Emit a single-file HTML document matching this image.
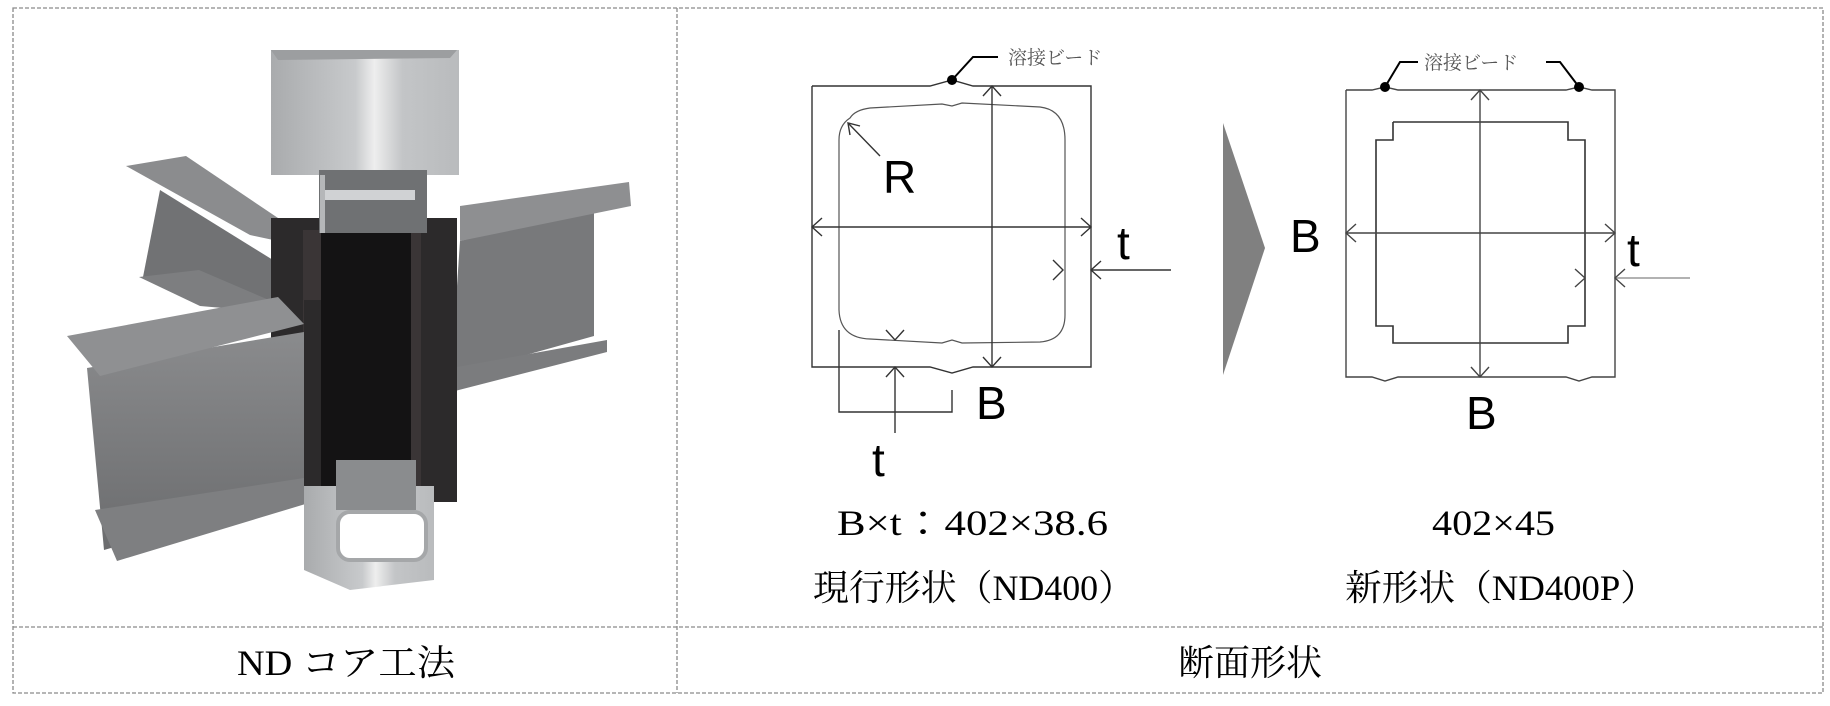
<!DOCTYPE html>
<html><head><meta charset="utf-8"><style>
html,body{margin:0;padding:0;background:#fff;}
svg{display:block;}
</style></head><body>
<svg width="1830" height="706" viewBox="0 0 1830 706" xmlns="http://www.w3.org/2000/svg">
<defs>
<linearGradient id="col" x1="0" x2="1" y1="0" y2="0">
<stop offset="0" stop-color="#a9abad"/><stop offset="0.45" stop-color="#c8cacc"/><stop offset="0.55" stop-color="#eeeeee"/><stop offset="0.7" stop-color="#c3c5c7"/><stop offset="1" stop-color="#b9bbbd"/>
</linearGradient>
<linearGradient id="beam" x1="0" x2="0" y1="0" y2="1">
<stop offset="0" stop-color="#8a8b8d"/><stop offset="1" stop-color="#6b6c6e"/>
</linearGradient>
</defs>
<g fill="none" stroke="#8a8a8a" stroke-width="1.3" stroke-dasharray="4,2">
<rect x="13" y="8" width="1810" height="685"/>
<line x1="13" y1="627" x2="1823" y2="627"/>
<line x1="677" y1="8" x2="677" y2="693"/>
</g>
<g>
<polygon points="143,277 160,190 273,260 273,305" fill="#717274"/>
<polygon points="126,166 186,156 278,218 278,241 250,235" fill="#8b8c8e"/>
<polygon points="139,277 199,270 269,300 269,312 200,306" fill="#7d7e80"/>
<polygon points="460,241 594,206 594,336 451,376" fill="#78797b"/>
<polygon points="460,206 629,182 631,206 460,241" fill="#8e8f91"/>
<polygon points="451,368 607,340 607,352 451,392" fill="#7b7c7e"/>
<rect x="271" y="218" width="186" height="284" fill="#2c2a2b"/>
<rect x="321" y="218" width="90" height="284" fill="#141314"/>
<rect x="303" y="230" width="18" height="270" fill="#3a3536"/>
<rect x="411" y="230" width="10" height="270" fill="#3a3536"/>
<polygon points="87,368 304,332 312,490 104,550" fill="url(#beam)"/>
<polygon points="67,336 278,297 304,324 100,376" fill="#8f9092"/>
<polygon points="95,510 304,478 312,502 117,561" fill="#7e7f81"/>
<rect x="304" y="300" width="17" height="202" fill="#2c2a2b"/>
<rect x="271" y="50" width="188" height="125" fill="url(#col)"/>
<polygon points="271,50 457,50 450,58 278,60" fill="#9c9ea0"/>
<rect x="319" y="170" width="108" height="63" fill="#6f7173"/>
<rect x="323" y="190" width="92" height="10" fill="#d0d2d4"/>
<rect x="320" y="175" width="5" height="58" fill="#b5b7b9"/>
<polygon points="304,486 434,486 434,580 350,590 304,570" fill="url(#col)"/>
<rect x="336" y="460" width="80" height="50" fill="#8a8c8e"/>
<rect x="338" y="512" width="88" height="48" rx="12" fill="#fff" stroke="#a5a7a9" stroke-width="4"/>
</g>
<g fill="none" stroke="#333" stroke-width="1.4">
<polyline points="812,86 930,86 952,80 973,86 1091,86 1091,367 973,367 952,373 930,367 812,367 812,86"/>
<path d="M850,118 Q855,110 870,108 L942,104 L952,106 L962,103 L1040,107 Q1065,110 1065,140 L1065,315 Q1065,340 1040,342 L962,343 L952,340 L942,343 L870,339 Q840,338 839,310 L839,140 Q839,125 850,118 Z" stroke="#555" stroke-width="1.2"/>
<line x1="812" y1="227" x2="1091" y2="227"/>
<line x1="992" y1="86" x2="992" y2="367"/>
<polyline points="822,218 812,227 822,236"/><polyline points="1081,218 1091,227 1081,236"/>
<polyline points="983,96 992,86 1001,96"/><polyline points="983,357 992,367 1001,357"/>
<line x1="848" y1="123" x2="880" y2="156"/><polyline points="850,135 848,123 860,126"/>
<line x1="1091" y1="270" x2="1171" y2="270"/><polyline points="1101,261 1091,270 1101,279"/>
<polyline points="1053,260 1063,270 1053,280"/>
<polyline points="839,330 839,412 952,412 952,390"/>
<line x1="895" y1="367" x2="895" y2="433"/><polyline points="886,377 895,367 904,377"/>
<polyline points="886,330 895,340 904,330"/>
<polyline points="952,80 973,57 998,57" stroke="#000" stroke-width="2"/>
</g>
<circle cx="952" cy="80" r="5" fill="#000"/>
<g font-family="'Liberation Sans',sans-serif" fill="#000">
<text x="883" y="193" font-size="46">R</text>
<text x="1117" y="259" font-size="46">t</text>
<text x="976" y="419" font-size="46">B</text>
<text x="872" y="476" font-size="46">t</text>
</g>
<text x="1008" y="64" font-size="19" fill="#555" font-family="'Liberation Serif','Noto Serif CJK SC',serif">溶接ビード</text>
<polygon points="1223,123 1265,248 1223,375" fill="#808080"/>
<g fill="none" stroke="#444" stroke-width="1.4">
<polyline points="1346,90 1372,90 1385,87 1398,90 1566,90 1579,87 1592,90 1615,90 1615,377 1592,377 1579,381 1566,377 1398,377 1385,381 1372,377 1346,377 1346,90"/>
<polyline points="1393,122 1568,122 1568,140 1585,140 1585,326 1568,326 1568,343 1393,343 1393,326 1376,326 1376,140 1393,140 1393,122" stroke="#333" stroke-width="1.6"/>
<line x1="1346" y1="233" x2="1615" y2="233"/>
<line x1="1480" y1="90" x2="1480" y2="377"/>
<polyline points="1356,224 1346,233 1356,242"/><polyline points="1605,224 1615,233 1605,242"/>
<polyline points="1471,100 1480,90 1489,100"/><polyline points="1471,367 1480,377 1489,367"/>
<line x1="1615" y1="278" x2="1690" y2="278" stroke="#999"/><polyline points="1625,269 1615,278 1625,287"/>
<polyline points="1575,269 1585,278 1575,287"/>
<polyline points="1385,87 1400,62 1418,62" stroke="#000" stroke-width="2"/>
<polyline points="1579,87 1560,62 1546,62" stroke="#000" stroke-width="2"/>
</g>
<circle cx="1385" cy="87" r="5" fill="#000"/><circle cx="1579" cy="87" r="5" fill="#000"/>
<text x="1424" y="69" font-size="19" fill="#555" font-family="'Liberation Serif','Noto Serif CJK SC',serif">溶接ビード</text>
<g font-family="'Liberation Sans',sans-serif" fill="#000">
<text x="1290" y="252" font-size="46">B</text>
<text x="1627" y="266" font-size="46">t</text>
<text x="1466" y="429" font-size="46">B</text>
</g>
<g font-family="'Liberation Serif','Noto Serif CJK JP',serif" fill="#000" font-size="36">
<text x="837" y="535" textLength="271" lengthAdjust="spacingAndGlyphs">B×t：402×38.6</text>
<text x="813" y="600" textLength="321" lengthAdjust="spacingAndGlyphs">現行形状（ND400）</text>
<text x="1432" y="535" textLength="123" lengthAdjust="spacingAndGlyphs">402×45</text>
<text x="1345" y="600" textLength="312" lengthAdjust="spacingAndGlyphs">新形状（ND400P）</text>
<text x="237" y="675" textLength="218" lengthAdjust="spacingAndGlyphs">ND コア工法</text>
<text x="1178" y="675" textLength="144" lengthAdjust="spacingAndGlyphs">断面形状</text>
</g>
</svg>
</body></html>
